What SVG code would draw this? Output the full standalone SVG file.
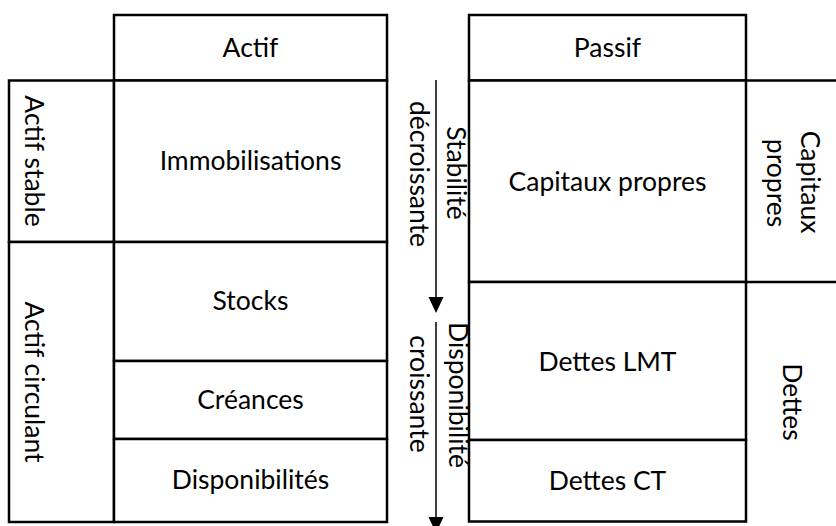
<svg xmlns="http://www.w3.org/2000/svg" width="836" height="526" viewBox="0 0 836 526">
<style>
.box{fill:#fff;stroke:#000;stroke-width:2.5}
.ln{stroke:#000;stroke-width:2.5;fill:none}
.t{font-family:Lato,"Open Sans",sans-serif;font-size:26.5px;fill:#000;text-anchor:middle}
.ar{stroke:#000;stroke-width:1.5}
.ah{fill:#000}
</style>
<rect width="836" height="526" fill="#fff"/>
<g id="actif-header"><rect class="box" x="114" y="15" width="273" height="65.5"/><text class="t" x="250.5" y="57">Actif</text></g>
<g id="actif-stable"><rect class="box" x="9" y="80.5" width="105" height="161.5"/><text class="t" transform="translate(25,161) rotate(90)">Actif stable</text></g>
<g id="immobilisations"><rect class="box" x="114" y="80.5" width="273" height="161.5"/><text class="t" x="250.5" y="170">Immobilisations</text></g>
<g id="actif-circulant"><rect class="box" x="9" y="242" width="105" height="280"/><text class="t" transform="translate(25,382) rotate(90)">Actif circulant</text></g>
<g id="stocks"><rect class="box" x="114" y="242" width="273" height="119"/><text class="t" x="250.5" y="310">Stocks</text></g>
<g id="creances"><rect class="box" x="114" y="361" width="273" height="78"/><text class="t" x="250.5" y="409">Créances</text></g>
<g id="disponibilites"><rect class="box" x="114" y="439" width="273" height="83"/><text class="t" x="250.5" y="489">Disponibilités</text></g>
<g id="passif-header"><rect class="box" x="469" y="15" width="277" height="65.5"/><text class="t" x="607.5" y="57">Passif</text></g>
<g id="capitaux-propres"><rect class="box" x="469" y="80.5" width="277" height="201.5"/><text class="t" x="607.5" y="191">Capitaux propres</text></g>
<g id="dettes-lmt"><rect class="box" x="469" y="282" width="277" height="158"/><text class="t" x="607.5" y="371">Dettes LMT</text></g>
<g id="dettes-ct"><rect class="box" x="469" y="440" width="277" height="81.5"/><text class="t" x="607.5" y="490">Dettes CT</text></g>
<g id="col-capitaux"><path class="ln" d="M746 80.5H840M746 282H840"/><text class="t" transform="translate(801,182) rotate(90)">Capitaux</text><text class="t" transform="translate(767,183) rotate(90)">propres</text></g>
<g id="col-dettes"><text class="t" transform="translate(783,402) rotate(90)">Dettes</text></g>
<g id="label-stabilite"><text class="t" transform="translate(447,173) rotate(90)">Stabilité</text><text class="t" transform="translate(410,174) rotate(90)">décroissante</text></g>
<g id="label-disponibilite"><text class="t" transform="translate(449,395) rotate(90)">Disponibilité</text><text class="t" transform="translate(410,394) rotate(90)">croissante</text></g>
<g id="connectors">
<line class="ar" x1="436" y1="80" x2="436" y2="298"/>
<polygon class="ah" points="428.5,297 443.5,297 436,313"/>
<line class="ar" x1="436" y1="322" x2="436" y2="518"/>
<polygon class="ah" points="428.5,517 443.5,517 436,533"/>
</g>
</svg>
